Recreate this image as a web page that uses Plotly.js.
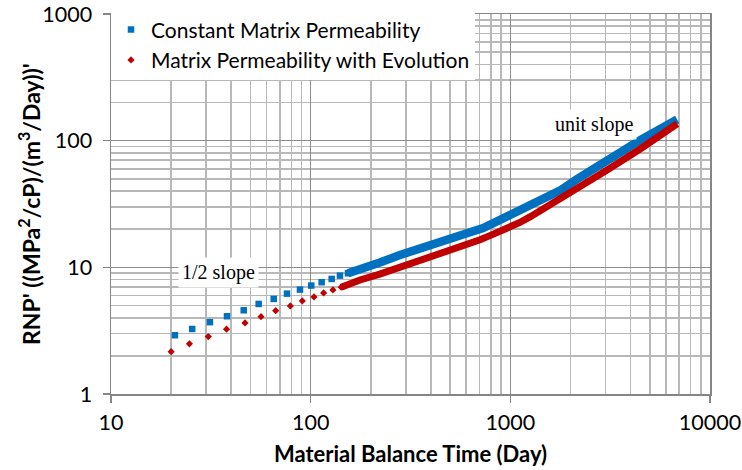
<!DOCTYPE html>
<html>
<head>
<meta charset="utf-8">
<script src="https://cdn.plot.ly/plotly-3.0.1.min.js"></script>
<style>html,body{margin:0;padding:0;background:#fff;}#chart{width:742px;height:470px;}</style>
</head>
<body>
<div id="chart"></div>
<script>
// Series 1: Constant Matrix Permeability (separate, readable markers)
var constX = [20.9, 25.5, 31.3, 38.1, 46.2, 54.9, 65.3, 76.1, 88.4, 100.7, 113.5, 127.4, 140.2, 153.8];
var constY = [2.91, 3.26, 3.69, 4.11, 4.58, 5.14, 5.63, 6.20, 6.67, 7.18, 7.63, 8.10, 8.60, 8.98];
// Series 1: dense part where markers merge into a band
var constDenseX = [153.8, 176.6, 222, 280, 352, 444, 498, 559, 628, 731, 887, 1117, 1406, 1770, 2150, 3040, 4470, 6850];
var constDenseY = [8.98, 9.54, 10.9, 12.5, 14.2, 16.2, 17.0, 17.9, 18.9, 20.4, 23.7, 27.5, 33.0, 40.3, 49.5, 70.4, 101, 147];

// Series 2: Matrix Permeability with Evolution
var evoX = [20.0, 24.7, 30.7, 37.9, 46.9, 56.4, 66.8, 79.1, 90.8, 103.9, 116.1, 129.3, 142.2];
var evoY = [2.16, 2.49, 2.84, 3.25, 3.64, 4.08, 4.55, 4.96, 5.43, 5.84, 6.28, 6.63, 6.97];
var evoDenseX = [142.2, 176.6, 222, 280, 352, 444, 498, 559, 628, 705, 790, 887, 995, 1117, 1253, 1406, 1578, 1987, 2229, 3040, 4470, 6850];
var evoDenseY = [6.97, 7.95, 8.83, 9.95, 11.3, 12.9, 13.7, 14.5, 15.4, 16.5, 17.8, 19.1, 20.6, 22.6, 25.0, 27.8, 31.0, 38.7, 43.0, 58.5, 86, 136];

var seriesNames = ['Constant Matrix Permeability', 'Matrix Permeability with Evolution'];
var xTickVals = [10, 100, 1000, 10000];
var xTickText = ['10', '100', '1000', '10000'];
var yTickVals = [1, 10, 100, 1000];
var yTickText = ['1', '10', '100', '1000'];
var xTitle = 'Material Balance Time (Day)';
var yTitle = "<b>RNP' ((MPa<sup>2</sup>/cP)/(m<sup>3</sup>/Day))'</b>";

var blue = '#0070C0', red = '#C00000';

var traces = [
  {x: constDenseX, y: constDenseY, mode: 'lines', line: {color: blue, width: 8.5}, showlegend: false, hoverinfo: 'skip'},
  {x: constX, y: constY, mode: 'markers', name: seriesNames[0], marker: {symbol: 'square', size: 6.5, color: blue}},
  {x: evoDenseX, y: evoDenseY, mode: 'lines', line: {color: red, width: 7}, showlegend: false, hoverinfo: 'skip'},
  {x: evoX, y: evoY, mode: 'markers', name: seriesNames[1], marker: {symbol: 'diamond', size: 5.5, color: red}}
];

var axisCommon = {
  type: 'log', showline: true, mirror: true, linecolor: '#868686', linewidth: 1.5,
  ticks: 'outside', ticklen: 7, tickcolor: '#868686', tickwidth: 1.5,
  showgrid: true, gridcolor: '#8c8c8c', gridwidth: 1.5, zeroline: false,
  tickfont: {family: 'Lato, sans-serif', size: 21.5, color: '#000'},
  minor: {dtick: 'D1', showgrid: true, gridcolor: '#b8b8b8', gridwidth: 1.6, ticks: ''}
};

var layout = {
  width: 742, height: 470,
  margin: {l: 111, r: 32, t: 14, b: 76, autoexpand: false},
  paper_bgcolor: '#fff', plot_bgcolor: '#fff',
  showlegend: true,
  legend: {x: 0, y: 1.012, xanchor: 'left', yanchor: 'top', bgcolor: '#fff', borderwidth: 0,
           font: {family: 'Lato, sans-serif', size: 21, color: '#000'}, traceorder: 'normal'},
  xaxis: Object.assign({}, axisCommon, {
    range: [1, 4], tickvals: xTickVals, ticktext: xTickText, ticklabelstandoff: 2, automargin: false,
    title: {text: xTitle, font: {family: 'Lato, sans-serif', size: 22, color: '#000', weight: 'bold'}, standoff: 12}
  }),
  yaxis: Object.assign({}, axisCommon, {
    range: [0, 3], tickvals: yTickVals, ticktext: yTickText, ticklabelstandoff: 6, automargin: false
  }),
  annotations: [
    {xref: 'paper', yref: 'paper', x: -0.137, y: 0.5, xanchor: 'center', yanchor: 'middle', textangle: -90,
     text: yTitle, showarrow: false, font: {family: 'Lato, sans-serif', size: 23, color: '#000'}},
    {xref: 'paper', yref: 'paper', x: 0.180, y: 0.321, xanchor: 'center', yanchor: 'middle', text: '1/2 slope', showarrow: false,
     font: {family: 'Liberation Serif, Times New Roman, serif', size: 20, color: '#000'}, bgcolor: '#fff', borderpad: 3},
    {xref: 'paper', yref: 'paper', x: 0.806, y: 0.7105, xanchor: 'center', yanchor: 'middle', text: 'unit slope', showarrow: false,
     font: {family: 'Liberation Serif, Times New Roman, serif', size: 20, color: '#000'}, bgcolor: '#fff', borderpad: 3}
  ]
};

Plotly.newPlot('chart', traces, layout, {displayModeBar: false, staticPlot: true});
</script>
</body>
</html>
